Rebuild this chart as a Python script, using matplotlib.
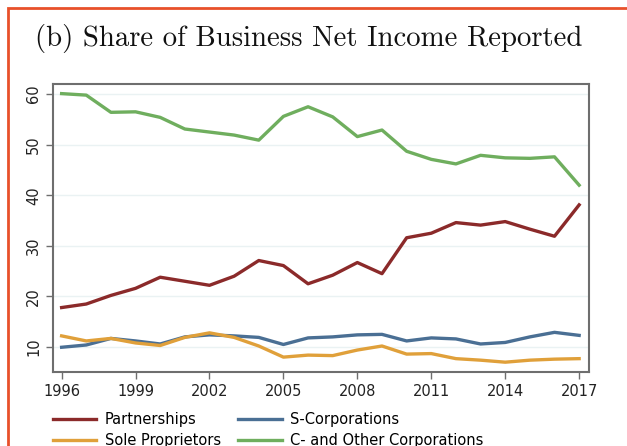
import matplotlib
matplotlib.use("Agg")
import matplotlib.pyplot as plt
from matplotlib.patches import Rectangle

years = list(range(1996, 2018))
partnerships = [17.8, 18.5, 20.2, 21.6, 23.8, 23.0, 22.2, 24.0, 27.1, 26.1, 22.5,
                24.2, 26.7, 24.5, 31.6, 32.5, 34.6, 34.1, 34.8, 33.3, 31.9, 38.1]
s_corps = [9.95, 10.4, 11.7, 11.2, 10.6, 12.0, 12.4, 12.2, 11.9, 10.5, 11.8,
           12.0, 12.4, 12.5, 11.2, 11.8, 11.6, 10.6, 10.9, 12.0, 12.9, 12.3]
sole_props = [12.2, 11.2, 11.7, 10.8, 10.3, 11.9, 12.8, 11.9, 10.2, 8.0, 8.4,
              8.3, 9.4, 10.2, 8.6, 8.7, 7.7, 7.4, 7.0, 7.4, 7.6, 7.7]
c_corps = [60.1, 59.8, 56.4, 56.5, 55.4, 53.1, 52.5, 51.9, 50.9, 55.6, 57.5,
           55.5, 51.6, 52.9, 48.7, 47.1, 46.2, 47.9, 47.4, 47.3, 47.6, 42.0]
xticks = [1996, 1999, 2002, 2005, 2008, 2011, 2014, 2017]
yticks = [10, 20, 30, 40, 50, 60]

fig = plt.figure(figsize=(6.27, 4.46), dpi=100)
fig.patches.append(Rectangle((8/627, -0.1), 1.2, (446-8)/446 + 0.1, transform=fig.transFigure,
                             fill=False, edgecolor="#E8502A", linewidth=2.0, clip_on=False))

ax = fig.add_axes([53/627, 1-372/446, (589-53)/627, (372-84)/446])

ax.plot(years, partnerships, color="#8B2A2A", lw=2.4, label="Partnerships")
ax.plot(years, s_corps, color="#4A6F94", lw=2.4, label="S-Corporations")
ax.plot(years, sole_props, color="#E0A03A", lw=2.4, label="Sole Proprietors")
ax.plot(years, c_corps, color="#6FAE5E", lw=2.4, label="C- and Other Corporations")

ax.set_xlim(1995.65, 2017.4)
ax.set_ylim(5.06, 62)
ax.set_xticks(xticks)
ax.set_yticks(yticks)
ax.set_xticklabels([str(x) for x in xticks], fontsize=10.5, color="#222222")
ax.set_yticklabels([str(y) for y in yticks], fontsize=10.5, rotation=90, va="center", color="#222222")
ax.yaxis.grid(True, color="#EAF2F3", lw=1.0)
ax.set_axisbelow(True)
for s in ax.spines.values():
    s.set_color("#6E6E6E")
    s.set_linewidth(1.5)
ax.tick_params(axis="both", color="#6E6E6E", length=5, width=1.0)

fig.text(35/627, 1-38/446, "(b) Share of Business Net Income Reported", family="cmr10",
         fontsize=20.7, va="center", ha="left", color="#111111")

handles, labels = ax.get_legend_handles_labels()
order = [0, 2, 1, 3]
fig.legend([handles[i] for i in order], [labels[i] for i in order], ncol=2, frameon=False,
           loc="center", bbox_to_anchor=(268/627, 1-430/446), fontsize=10.5, handlelength=3.0,
           handletextpad=0.55, columnspacing=1.2, labelspacing=0.4, borderaxespad=0)

fig.savefig("out.png", dpi=100)
